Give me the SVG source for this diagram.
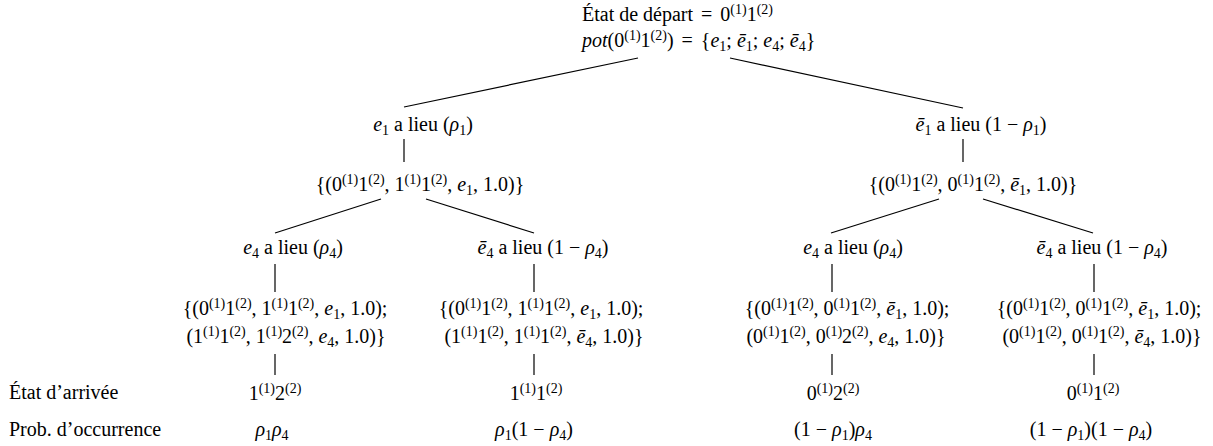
<svg xmlns="http://www.w3.org/2000/svg" width="1213" height="446" viewBox="0 0 1213 446" font-family="'Liberation Serif', 'DejaVu Serif', serif">
<style>
text { font-family: "Liberation Serif", "DejaVu Serif", serif; font-size: 20px; fill: #000; }
.m { text-anchor: middle; }
.i { font-style: italic; }
.sp { font-size: 14px; baseline-shift: 7px; }
.sb { font-size: 14px; baseline-shift: -4px; }
#edges line { stroke: #000; stroke-width: 1.2; }
</style>
<rect width="1213" height="446" fill="#fff"/>
<g id="edges">
<line x1="638" y1="58" x2="404" y2="107"/>
<line x1="730" y1="58" x2="963" y2="108"/>
<line x1="404" y1="139" x2="404" y2="162"/>
<line x1="963" y1="139" x2="963" y2="162"/>
<line x1="381" y1="199" x2="275" y2="233"/>
<line x1="426" y1="199" x2="534" y2="233"/>
<line x1="939" y1="199" x2="831" y2="233"/>
<line x1="983" y1="199" x2="1093" y2="233"/>
<line x1="275" y1="264" x2="275" y2="292"/>
<line x1="534" y1="264" x2="534" y2="292"/>
<line x1="832" y1="264" x2="832" y2="292"/>
<line x1="1094" y1="264" x2="1094" y2="292"/>
<line x1="275" y1="354" x2="275" y2="375"/>
<line x1="534" y1="354" x2="534" y2="375"/>
<line x1="832" y1="354" x2="832" y2="375"/>
<line x1="1094" y1="354" x2="1094" y2="375"/>
</g>
<g id="root">
<text x="582" y="21">État de départ <tspan dx="3">=</tspan> <tspan dx="3">0</tspan><tspan class="sp">(1)</tspan>1<tspan class="sp">(2)</tspan></text>
<text x="582" y="47"><tspan class="i">pot</tspan>(0<tspan class="sp">(1)</tspan>1<tspan class="sp">(2)</tspan>) <tspan dx="3">=</tspan> <tspan dx="3">{</tspan><tspan class="i">e</tspan><tspan class="sb">1</tspan>; <tspan class="i">ē</tspan><tspan class="sb">1</tspan>; <tspan class="i">e</tspan><tspan class="sb">4</tspan>; <tspan class="i">ē</tspan><tspan class="sb">4</tspan>}</text>
</g>
<g id="ev-e1">
<text class="m" x="423" y="131"><tspan class="i">e</tspan><tspan class="sb">1</tspan> a lieu (<tspan class="i">ρ</tspan><tspan class="sb">1</tspan>)</text>
</g>
<g id="set-e1">
<text class="m" x="420" y="191">{(0<tspan class="sp">(1)</tspan>1<tspan class="sp">(2)</tspan>, 1<tspan class="sp">(1)</tspan>1<tspan class="sp">(2)</tspan>, <tspan class="i">e</tspan><tspan class="sb">1</tspan>, 1.0)}</text>
</g>
<g id="ev-ne1">
<text class="m" x="981" y="131"><tspan class="i">ē</tspan><tspan class="sb">1</tspan> a lieu (1 − <tspan class="i">ρ</tspan><tspan class="sb">1</tspan>)</text>
</g>
<g id="set-ne1">
<text class="m" x="973" y="191">{(0<tspan class="sp">(1)</tspan>1<tspan class="sp">(2)</tspan>, 0<tspan class="sp">(1)</tspan>1<tspan class="sp">(2)</tspan>, <tspan class="i">ē</tspan><tspan class="sb">1</tspan>, 1.0)}</text>
</g>
<g id="ev-e1-e4">
<text class="m" x="293" y="254"><tspan class="i">e</tspan><tspan class="sb">4</tspan> a lieu (<tspan class="i">ρ</tspan><tspan class="sb">4</tspan>)</text>
</g>
<g id="set-e1-e4">
<text class="m" x="285" y="315">{(0<tspan class="sp">(1)</tspan>1<tspan class="sp">(2)</tspan>, 1<tspan class="sp">(1)</tspan>1<tspan class="sp">(2)</tspan>, <tspan class="i">e</tspan><tspan class="sb">1</tspan>, 1.0);</text>
<text class="m" x="286" y="343">(1<tspan class="sp">(1)</tspan>1<tspan class="sp">(2)</tspan>, 1<tspan class="sp">(1)</tspan>2<tspan class="sp">(2)</tspan>, <tspan class="i">e</tspan><tspan class="sb">4</tspan>, 1.0)}</text>
</g>
<g id="ev-e1-ne4">
<text class="m" x="543" y="254"><tspan class="i">ē</tspan><tspan class="sb">4</tspan> a lieu (1 − <tspan class="i">ρ</tspan><tspan class="sb">4</tspan>)</text>
</g>
<g id="set-e1-ne4">
<text class="m" x="541" y="315">{(0<tspan class="sp">(1)</tspan>1<tspan class="sp">(2)</tspan>, 1<tspan class="sp">(1)</tspan>1<tspan class="sp">(2)</tspan>, <tspan class="i">e</tspan><tspan class="sb">1</tspan>, 1.0);</text>
<text class="m" x="544" y="343">(1<tspan class="sp">(1)</tspan>1<tspan class="sp">(2)</tspan>, 1<tspan class="sp">(1)</tspan>1<tspan class="sp">(2)</tspan>, <tspan class="i">ē</tspan><tspan class="sb">4</tspan>, 1.0)}</text>
</g>
<g id="ev-ne1-e4">
<text class="m" x="853" y="254"><tspan class="i">e</tspan><tspan class="sb">4</tspan> a lieu (<tspan class="i">ρ</tspan><tspan class="sb">4</tspan>)</text>
</g>
<g id="set-ne1-e4">
<text class="m" x="847" y="315">{(0<tspan class="sp">(1)</tspan>1<tspan class="sp">(2)</tspan>, 0<tspan class="sp">(1)</tspan>1<tspan class="sp">(2)</tspan>, <tspan class="i">ē</tspan><tspan class="sb">1</tspan>, 1.0);</text>
<text class="m" x="846" y="343">(0<tspan class="sp">(1)</tspan>1<tspan class="sp">(2)</tspan>, 0<tspan class="sp">(1)</tspan>2<tspan class="sp">(2)</tspan>, <tspan class="i">e</tspan><tspan class="sb">4</tspan>, 1.0)}</text>
</g>
<g id="ev-ne1-ne4">
<text class="m" x="1102" y="254"><tspan class="i">ē</tspan><tspan class="sb">4</tspan> a lieu (1 − <tspan class="i">ρ</tspan><tspan class="sb">4</tspan>)</text>
</g>
<g id="set-ne1-ne4">
<text class="m" x="1099" y="315">{(0<tspan class="sp">(1)</tspan>1<tspan class="sp">(2)</tspan>, 0<tspan class="sp">(1)</tspan>1<tspan class="sp">(2)</tspan>, <tspan class="i">ē</tspan><tspan class="sb">1</tspan>, 1.0);</text>
<text class="m" x="1102" y="343">(0<tspan class="sp">(1)</tspan>1<tspan class="sp">(2)</tspan>, 0<tspan class="sp">(1)</tspan>1<tspan class="sp">(2)</tspan>, <tspan class="i">ē</tspan><tspan class="sb">4</tspan>, 1.0)}</text>
</g>
<g id="labels">
<text x="9" y="399">État d’arrivée</text>
<text x="9" y="436">Prob. d’occurrence</text>
</g>
<g id="state-1">
<text class="m" x="275" y="400">1<tspan class="sp">(1)</tspan>2<tspan class="sp">(2)</tspan></text>
<text class="m" x="272" y="436"><tspan class="i">ρ</tspan><tspan class="sb">1</tspan><tspan class="i">ρ</tspan><tspan class="sb">4</tspan></text>
</g>
<g id="state-2">
<text class="m" x="536" y="400">1<tspan class="sp">(1)</tspan>1<tspan class="sp">(2)</tspan></text>
<text class="m" x="534" y="436"><tspan class="i">ρ</tspan><tspan class="sb">1</tspan>(1 − <tspan class="i">ρ</tspan><tspan class="sb">4</tspan>)</text>
</g>
<g id="state-3">
<text class="m" x="833" y="400">0<tspan class="sp">(1)</tspan>2<tspan class="sp">(2)</tspan></text>
<text class="m" x="833" y="436">(1 − <tspan class="i">ρ</tspan><tspan class="sb">1</tspan>)<tspan class="i">ρ</tspan><tspan class="sb">4</tspan></text>
</g>
<g id="state-4">
<text class="m" x="1093" y="400">0<tspan class="sp">(1)</tspan>1<tspan class="sp">(2)</tspan></text>
<text class="m" x="1091" y="436">(1 − <tspan class="i">ρ</tspan><tspan class="sb">1</tspan>)(1 − <tspan class="i">ρ</tspan><tspan class="sb">4</tspan>)</text>
</g>
</svg>
